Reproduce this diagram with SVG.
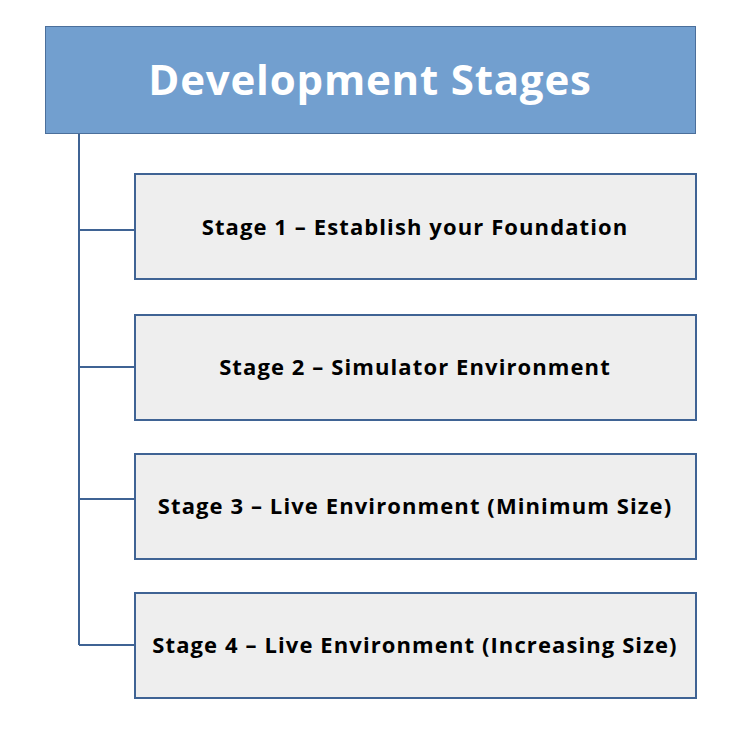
<svg xmlns="http://www.w3.org/2000/svg" width="750" height="730" viewBox="0 0 750 730">
<style>
.box{fill:#eeeeee;stroke:#3f6394;stroke-width:2}
.lbl{font-family:"Open Sans",sans-serif;font-weight:bold;font-size:22px;fill:#000;text-anchor:middle;letter-spacing:1.1px}
.con{stroke:#3f6394;stroke-width:2;fill:none}
</style>
<rect width="750" height="730" fill="#fff"/>
<g id="connectors">
<path class="con" d="M79,133 V645 M79,230 H135 M79,367 H135 M79,499 H135 M79,645 H135"/>
</g>
<g id="header">
<rect x="45.5" y="26.5" width="650" height="107" fill="#729fcf" stroke="#4b6f9b" stroke-width="1"/>
<text x="370" y="95" font-family="'Open Sans',sans-serif" font-weight="bold" font-size="42" fill="#fff" text-anchor="middle" letter-spacing="0.8">Development Stages</text>
</g>
<g id="stage1"><rect class="box" x="135" y="174" width="561" height="105"/><text class="lbl" x="415" y="235">Stage 1 – Establish your Foundation</text></g>
<g id="stage2"><rect class="box" x="135" y="315" width="561" height="105"/><text class="lbl" x="415" y="375">Stage 2 – Simulator Environment</text></g>
<g id="stage3"><rect class="box" x="135" y="454" width="561" height="105"/><text class="lbl" x="415" y="514">Stage 3 – Live Environment (Minimum Size)</text></g>
<g id="stage4"><rect class="box" x="135" y="593" width="561" height="105"/><text class="lbl" x="415" y="653">Stage 4 – Live Environment (Increasing Size)</text></g>
</svg>
